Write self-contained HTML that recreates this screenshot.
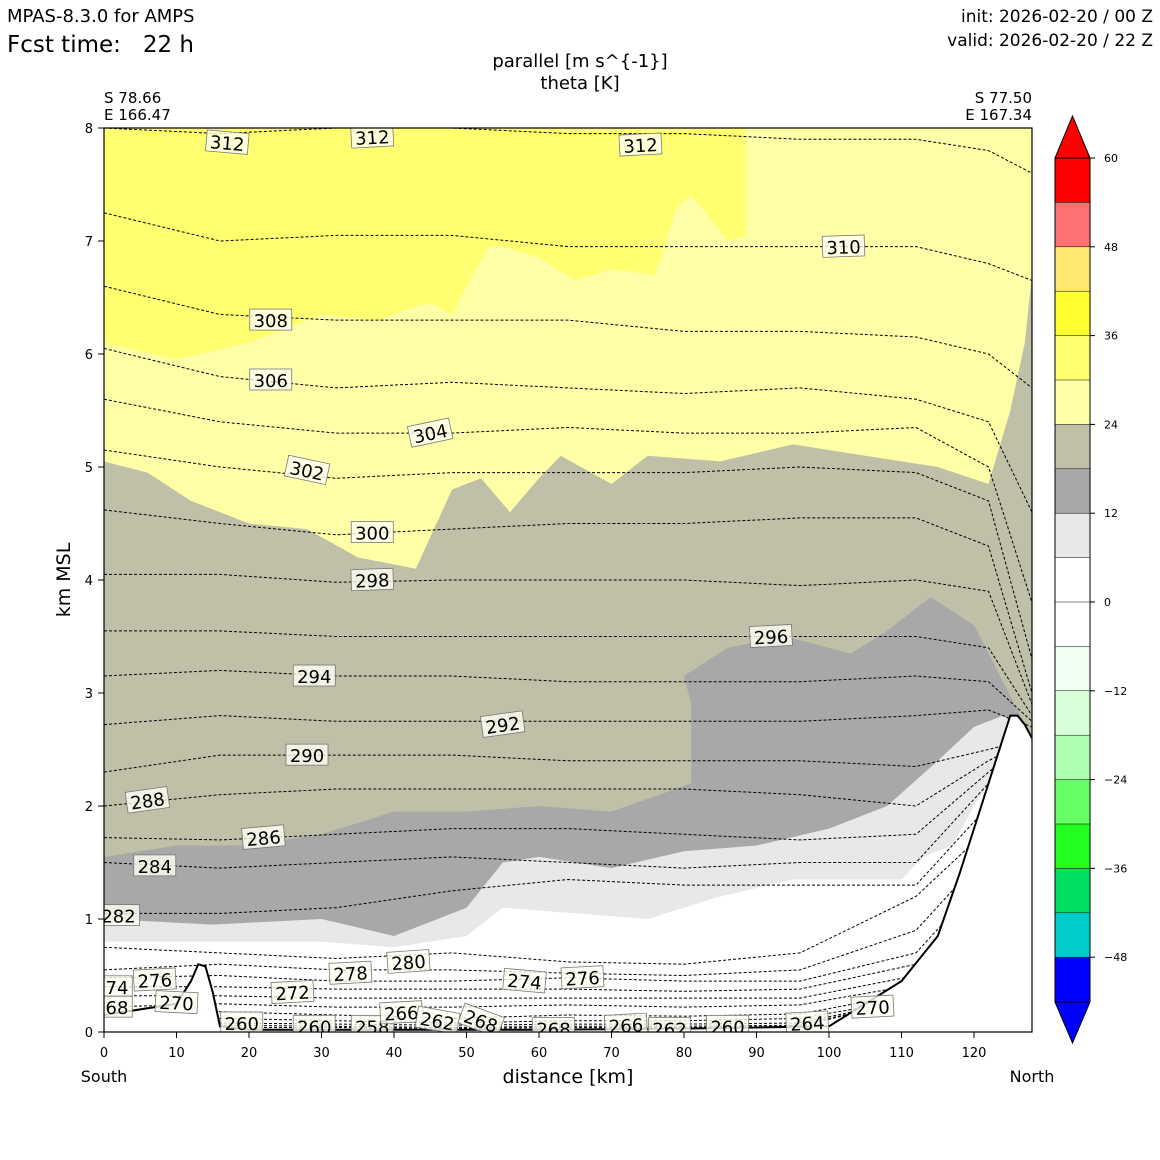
<!DOCTYPE html>
<html><head><meta charset="utf-8">
<style>
body{margin:0;background:#fff;}
svg{display:block;font-family:"DejaVu Sans","Liberation Sans",sans-serif;}
</style></head>
<body>
<svg id="chart" width="1160" height="1160" viewBox="0 0 1160 1160" xmlns="http://www.w3.org/2000/svg">
<text x="7" y="22" font-size="18">MPAS-8.3.0 for AMPS</text>
<text x="7" y="52" font-size="23" style="white-space:pre" xml:space="preserve">Fcst time:   22 h</text>
<text x="1153" y="22" font-size="17" text-anchor="end">init: 2026-02-20 / 00 Z</text>
<text x="1153" y="46" font-size="17" text-anchor="end">valid: 2026-02-20 / 22 Z</text>
<text x="580" y="67" font-size="18" text-anchor="middle">parallel [m s^{-1}]</text>
<text x="580" y="89" font-size="18" text-anchor="middle">theta [K]</text>
<text x="104" y="103" font-size="15">S 78.66</text>
<text x="104" y="120" font-size="15">E 166.47</text>
<text x="1032" y="103" font-size="15" text-anchor="end">S 77.50</text>
<text x="1032" y="120" font-size="15" text-anchor="end">E 167.34</text>
<text transform="translate(70,580) rotate(-90)" font-size="19" text-anchor="middle">km MSL</text>
<text x="568" y="1083" font-size="19" text-anchor="middle">distance [km]</text>
<text x="104" y="1082" font-size="16" text-anchor="middle">South</text>
<text x="1032" y="1082" font-size="16" text-anchor="middle">North</text>
<defs><clipPath id="pc"><rect x="104" y="128" width="928" height="904"/></clipPath></defs>
<g id="plot" clip-path="url(#pc)"></g>
<g id="axes"></g>
<g id="cbar"></g>
</svg>
<script>
// ---- data ----
const xKm = [0,16,32,48,64,80,96,112,122,128];
const thetaLevels = [312,310,308,306,304,302,300,298,296,294,292,290,288,286,284,282,280,278,276,274,272,270,268,266,264,262,260];
const thetaHeights = [
 [8.0,7.95,8.0,8.0,7.95,7.95,7.9,7.9,7.8,7.6],
 [7.25,7.0,7.05,7.05,6.95,6.95,6.95,6.95,6.8,6.65],
 [6.6,6.35,6.3,6.3,6.3,6.2,6.2,6.15,6.0,5.7],
 [6.05,5.8,5.7,5.75,5.7,5.65,5.7,5.6,5.4,4.6],
 [5.6,5.4,5.3,5.3,5.35,5.3,5.3,5.35,5.0,3.8],
 [5.15,5.0,4.9,4.95,4.95,4.95,5.0,4.95,4.7,3.3],
 [4.62,4.5,4.4,4.45,4.5,4.5,4.55,4.55,4.3,3.0],
 [4.05,4.05,3.98,4.0,4.0,4.0,3.95,4.0,3.9,2.9],
 [3.55,3.55,3.5,3.5,3.5,3.5,3.5,3.5,3.4,2.8],
 [3.15,3.2,3.15,3.15,3.1,3.1,3.1,3.15,3.1,2.75],
 [2.72,2.8,2.75,2.75,2.75,2.75,2.75,2.8,2.85,2.7],
 [2.3,2.45,2.45,2.45,2.4,2.4,2.4,2.35,2.5,2.6],
 [2.0,2.1,2.15,2.15,2.15,2.15,2.1,2.0,2.4,2.6],
 [1.72,1.7,1.75,1.8,1.8,1.75,1.7,1.75,2.3,2.6],
 [1.5,1.45,1.5,1.55,1.5,1.45,1.5,1.5,2.2,2.6],
 [1.05,1.05,1.1,1.25,1.35,1.3,1.3,1.3,2.0,2.6],
 [0.75,0.7,0.65,0.7,0.62,0.6,0.7,1.2,1.8,2.6],
 [0.55,0.6,0.55,0.55,0.52,0.5,0.55,0.9,1.6,2.6],
 [0.48,0.5,0.45,0.45,0.48,0.45,0.45,0.7,1.4,2.6],
 [0.4,0.4,0.38,0.38,0.38,0.36,0.38,0.6,1.3,2.6],
 [0.32,0.32,0.3,0.3,0.3,0.3,0.3,0.5,1.2,2.6],
 [0.22,0.25,0.22,0.22,0.24,0.22,0.24,0.42,1.1,2.6],
 [0.15,0.18,0.15,0.12,0.15,0.14,0.16,0.35,1.0,2.6],
 [0.1,0.12,0.1,0.08,0.1,0.1,0.12,0.3,1.0,2.6],
 [0.08,0.08,0.07,0.06,0.07,0.07,0.08,0.3,1.0,2.6],
 [0.06,0.06,0.05,0.04,0.05,0.05,0.06,0.3,1.0,2.6],
 [0.05,0.04,0.04,0.03,0.04,0.04,0.05,0.3,1.0,2.6]
];
const labelLevels = [312,312,312,310,308,306,304,302,300,298,296,294,292,290,288,286,284,282,280,278,276,276,274,272,270,270,260,260,258,266,262,268,268,266,262,260,264,274,268];
const labelX = [17,37,74,102,23,23,45,28,37,37,92,29,55,28,6,22,7,2,42,34,7,66,58,26,10,106,19,29,37,41,46,52,62,72,78,86,97,1,1];
const labelY = [7.87,7.92,7.85,6.95,6.3,5.77,5.3,4.97,4.42,4.0,3.5,3.15,2.72,2.45,2.05,1.72,1.47,1.03,0.62,0.52,0.46,0.48,0.45,0.35,0.26,0.22,0.08,0.05,0.05,0.17,0.1,0.1,0.03,0.06,0.03,0.05,0.08,0.4,0.22];
const labelRot = [5,-3,-3,-2,0,0,-12,12,0,-2,-3,0,-8,0,-8,-5,0,0,-4,-3,-3,-3,5,-3,3,-3,0,0,0,-3,10,20,0,-3,0,0,-3,0,0];
// shaded regions (km, height)
const yellowX=[0,0,88.5,88.5,86,83,81,79,76,70,65,60,55,53,50,48,45,42,38,30,20,10,0];
const yellowY=[6.1,8.2,8.2,7.05,7.0,7.25,7.4,7.3,6.7,6.75,6.65,6.85,6.95,6.95,6.6,6.35,6.45,6.4,6.3,6.35,6.1,5.95,6.1];
const tanX=[0,6,12,20,28,35,43,48,52,56,60,63,70,75,85,95,105,115,122,125,127,128];
const tanY=[5.05,4.95,4.7,4.5,4.45,4.2,4.1,4.8,4.9,4.6,4.9,5.1,4.85,5.1,5.05,5.2,5.1,5.0,4.85,5.5,6.1,6.7];
const grayX=[0,10,20,30,40,50,60,70,81,81,80,86,94,103,108,114,120,124,128];
const grayY=[1.55,1.65,1.65,1.75,1.95,1.95,2.0,1.95,2.2,2.9,3.15,3.4,3.5,3.35,3.55,3.85,3.6,3.1,2.6];
const lgrayX=[0,15,30,40,50,55,60,70,80,90,100,108,115,120,124,128];
const lgrayY=[1.0,0.95,1.0,0.85,1.1,1.5,1.55,1.45,1.6,1.65,1.8,2.0,2.4,2.7,2.8,2.6];
const whiteX=[0,20,30,40,50,55,65,75,85,95,103,110,113,117,120,123,128];
const whiteY=[0.8,0.8,0.8,0.75,0.85,1.1,1.05,1.0,1.2,1.35,1.35,1.35,1.55,1.65,2.0,2.3,2.6];
const terrainX=[0,10,12,13,14,15,16,20,40,60,80,100,105,110,115,118,122,124,125,126,127,128];
const terrainY=[0.15,0.25,0.45,0.6,0.58,0.35,0.05,0.02,0.02,0.02,0.03,0.05,0.25,0.45,0.85,1.4,2.2,2.6,2.8,2.8,2.72,2.6];
const xTicks=[0,10,20,30,40,50,60,70,80,90,100,110,120];
const yTicks=[0,1,2,3,4,5,6,7,8];
const cbLevels=[-54,-48,-42,-36,-30,-24,-18,-12,-6,0,6,12,18,24,30,36,42,48,54,60];
const cbColors=['#0000ff','#00cccc','#00e060','#20ff20','#66ff66','#b0ffb0','#d8ffd8','#f0fff0','#ffffff','#ffffff','#e8e8e8','#a8a8a8','#c0c0a8','#ffffa8','#ffff70','#ffff30','#ffe870','#ff7070','#ff0000'];
const cbTicks=[-48,-36,-24,-12,0,12,24,36,48,60];

// ---- scales ----
const NS='http://www.w3.org/2000/svg';
const X=k=>104+k*7.25, Y=h=>1032-h*113;
const CY=v=>602-(v)*(444/60);
function mk(t,a,p){const e=document.createElementNS(NS,t);for(const k in a)e.setAttribute(k,a[k]);p.appendChild(e);return e;}
const plot=document.getElementById('plot'),axes=document.getElementById('axes'),cbar=document.getElementById('cbar');
function pts(xs,ys){return xs.map((x,i)=>X(x).toFixed(1)+','+Y(ys[i]).toFixed(1));}

let bg=mk('rect',{x:104,y:128,width:928,height:904,fill:'#ffffa8'},plot);


let p;
p=mk('polygon',{points:pts(yellowX,yellowY).join(' '),fill:'#ffff70'},plot);


p=mk('polygon',{points:pts(tanX,tanY).concat([X(128)+','+Y(0),X(0)+','+Y(0)]).join(' '),fill:'#c0c0a8'},plot);


p=mk('polygon',{points:pts(grayX,grayY).concat([X(128)+','+Y(0),X(0)+','+Y(0)]).join(' '),fill:'#a8a8a8'},plot);


p=mk('polygon',{points:pts(lgrayX,lgrayY).concat([X(128)+','+Y(0),X(0)+','+Y(0)]).join(' '),fill:'#e8e8e8'},plot);


p=mk('polygon',{points:pts(whiteX,whiteY).concat([X(128)+','+Y(0),X(0)+','+Y(0)]).join(' '),fill:'#ffffff'},plot);



thetaLevels.forEach((lv,i)=>{
  const l=mk('polyline',{points:pts(xKm,thetaHeights[i]).join(' '),fill:'none',stroke:'#000','stroke-width':1,'stroke-dasharray':'3,2'},plot);
  
  
});

p=mk('polygon',{points:pts(terrainX,terrainY).concat([X(128)+','+Y(-0.1),X(0)+','+Y(-0.1)]).join(' '),fill:'#fff'},plot);


p=mk('polyline',{points:pts(terrainX,terrainY).join(' '),fill:'none',stroke:'#000','stroke-width':2},plot);



labelLevels.forEach((lv,i)=>{
  const g=mk('g',{transform:'translate('+X(labelX[i])+','+Y(labelY[i])+') rotate('+labelRot[i]+')'},plot);
  
  
  mk('rect',{x:-21,y:-11,width:42,height:21,fill:'#fffff4','fill-opacity':0.8,stroke:'#777','stroke-width':0.8},g);
  const t=mk('text',{x:0,y:7,'font-size':18,'text-anchor':'middle'},g);t.textContent=lv;
});

let fr=mk('rect',{x:104,y:128,width:928,height:904,fill:'none',stroke:'#000','stroke-width':1.2},axes);


xTicks.forEach(v=>{
  mk('line',{x1:X(v),x2:X(v),y1:1032,y2:1038,stroke:'#000'},axes);
  const t=mk('text',{x:X(v),y:1057,'font-size':13,'text-anchor':'middle'},axes);t.textContent=v;
  
  
});
yTicks.forEach(v=>{
  mk('line',{x1:98,x2:104,y1:Y(v),y2:Y(v),stroke:'#000'},axes);
  const t=mk('text',{x:93,y:Y(v)+5,'font-size':13,'text-anchor':'end'},axes);t.textContent=v;
  
  
});

// colorbar
cbColors.forEach((c,i)=>{
  const r=mk('rect',{x:1055,y:CY(cbLevels[i+1]),width:35,height:CY(cbLevels[i])-CY(cbLevels[i+1]),fill:c},cbar);
  
  
});
let tri=mk('polygon',{points:'1055,158 1090,158 1072.5,116',fill:'#ff0000',stroke:'#000'},cbar);


tri=mk('polygon',{points:'1055,1002 1090,1002 1072.5,1043',fill:'#0000ff',stroke:'#000'},cbar);


cbLevels.forEach(v=>{mk('line',{x1:1055,x2:1090,y1:CY(v),y2:CY(v),stroke:'#000','stroke-width':0.5},cbar);});
mk('rect',{x:1055,y:158,width:35,height:844,fill:'none',stroke:'#000'},cbar);
cbTicks.forEach(v=>{
  mk('line',{x1:1090,x2:1095,y1:CY(v),y2:CY(v),stroke:'#000'},cbar);
  const t=mk('text',{x:1104,y:CY(v)+4,'font-size':11},cbar);t.textContent=v<0?'\u2212'+(-v):v;
  
  
});
</script>
</body></html>
